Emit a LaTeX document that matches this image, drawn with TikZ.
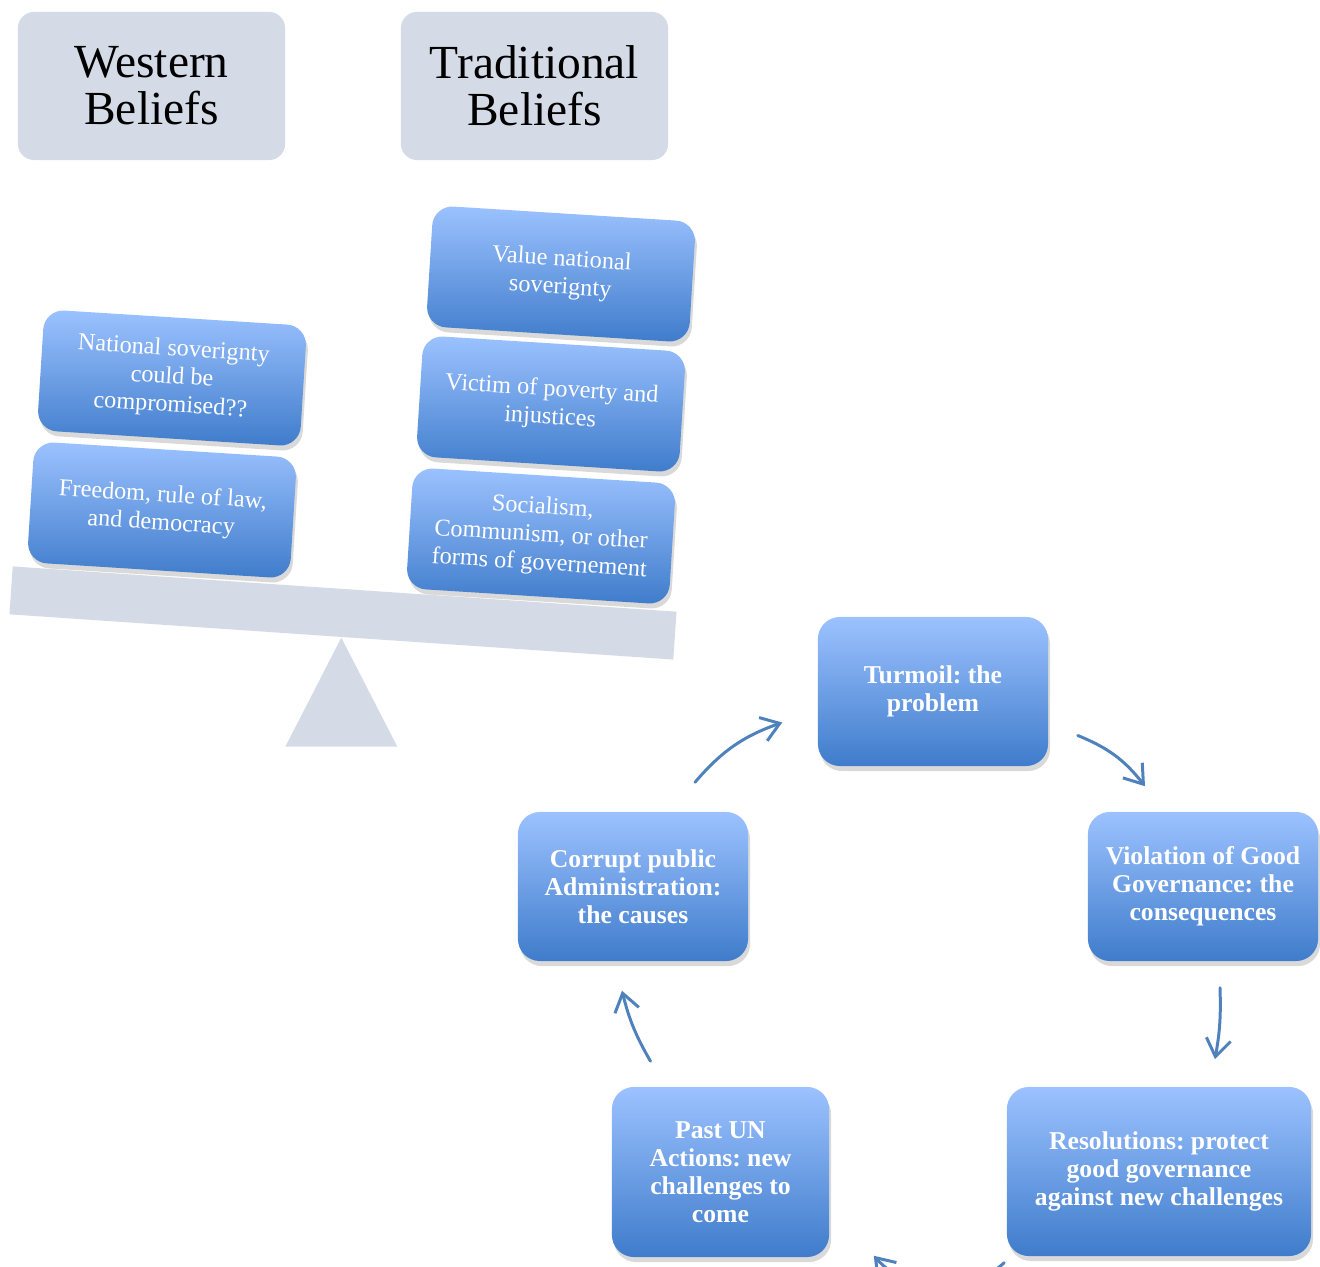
\documentclass[tikz,border=0pt]{standalone}
\usepackage{fontspec}
\setmainfont{Liberation Serif}
\frenchspacing
\usetikzlibrary{calc,shadows,arrows.meta}
\definecolor{beliefgray}{HTML}{D5DBE6}
\definecolor{boxtop}{HTML}{9CC2FF}
\definecolor{boxbottom}{HTML}{3F7CCB}
\definecolor{arrowblue}{HTML}{4F81BD}
\tikzset{
  beliefhead/.style={fill=beliefgray, rounded corners=0.16cm, minimum width=2.67cm,
    minimum height=1.48cm, align=center, font=\fontsize{13.5}{13.4}\selectfont},
  beam/.style={fill=beliefgray, minimum width=6.65cm, minimum height=0.48cm,
    inner sep=0pt, rotate=-3.9},
  weightbox/.style={rounded corners=0.2cm, top color=boxtop, bottom color=boxbottom,
    minimum width=2.63cm, minimum height=1.21cm, align=center, text=white,
    rotate=-3.6, font=\fontsize{6.9}{8}\selectfont,
    drop shadow={shadow xshift=0.2mm, shadow yshift=-0.5mm, opacity=0.3}},
  cyclebox/.style={rounded corners=0.22cm, top color=boxtop, bottom color=boxbottom,
    minimum width=2.3cm, minimum height=1.49cm, align=center, text=white,
    font=\bfseries\fontsize{7.3}{8}\selectfont,
    drop shadow={shadow xshift=0.2mm, shadow yshift=-0.5mm, opacity=0.3}},
  cyclearrow/.style={arrowblue, line width=0.85pt, line cap=round,
    -{Straight Barb[length=5pt,width=7pt]}}
}
\begin{document}
\begin{tikzpicture}[x=0.01cm,y=-0.01cm]
  \path[use as bounding box,clip] (0,0) rectangle (1320,1267);
  % headings
  \node[beliefhead] (western) at (151.5,86) {Western\\Beliefs};
  \node[beliefhead] (traditional) at (534.5,86) {Traditional\\Beliefs};
  % the scale
  \node[beam] (beam) at (343,613) {};
  \fill[beliefgray] (beam.south) -- ++(-56,109) -- ++(112,0) -- cycle;
  % weights on the scale
  \node[weightbox] (natsov) at (172,378) {National soverignty\\could be\\compromised??};
  \node[weightbox] (freedom) at (162,510) {Freedom, rule of law,\\and democracy};
  \node[weightbox] (valuesov) at (561,274) {Value national\\soverignty};
  \node[weightbox] (victim) at (551,404) {Victim of poverty and\\injustices};
  \node[weightbox] (socialism) at (541,536) {Socialism,\\Communism, or other\\forms of governement};
  % the cycle
  \node[cyclebox] (turmoil) at (933,691.5) {Turmoil: the\\problem};
  \node[cyclebox] (violation) at (1203,886.5) {Violation of Good\\Governance: the\\consequences};
  \node[cyclebox, minimum width=3.04cm, minimum height=1.69cm] (resolutions) at (1159,1171.5)
    {Resolutions: protect\\good governance\\against new challenges};
  \node[cyclebox, minimum width=2.17cm, minimum height=1.7cm] (pastun) at (720.5,1172)
    {Past UN\\Actions: new\\challenges to\\come};
  \node[cyclebox] (corrupt) at (633,886.5) {Corrupt public\\Administration:\\the causes};
  % 
  \coordinate (a1s) at ($(corrupt.north)+(62,-29)$);
  \coordinate (a1e) at ($(turmoil.west)+(-35,31)$);
  \coordinate (a2s) at ($(turmoil.east)+(29,44)$);
  \coordinate (a2e) at ($(violation.north)+(-58,-25)$);
  \coordinate (a3s) at ($(violation.south)+(17,26)$);
  \coordinate (a3e) at ($(resolutions.north)+(56,-27)$);
  \coordinate (a4s) at ($(resolutions.south west)+(-2,6)$);
  \coordinate (a4e) at ($(pastun.south east)+(44,-2)$);
  \coordinate (a5s) at ($(pastun.north)+(-70,-25)$);
  \coordinate (a5e) at ($(corrupt.south)+(-11,29)$);
  % 
  \draw[cyclearrow] (a1s) to[bend left=15] (a1e);
  \draw[cyclearrow] (a2s) to[bend left=15] (a2e);
  \draw[cyclearrow] (a3s) to[bend left=6] (a3e);
  \draw[cyclearrow] (a4s) to[bend left=45] (a4e);
  \draw[cyclearrow] (a5s) to[bend left=8] (a5e);
\end{tikzpicture}
\end{document}
